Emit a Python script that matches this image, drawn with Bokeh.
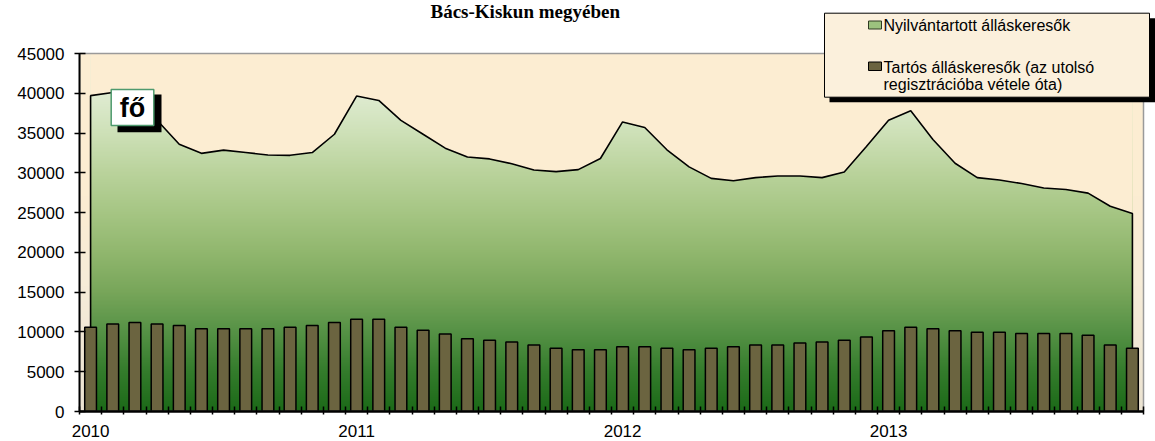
import numpy as np
from bokeh.plotting import figure
from bokeh.models import FixedTicker, BoxAnnotation, Label
from bokeh.embed import file_html
from bokeh.resources import INLINE

# ---------------- data ----------------
years = ["2010", "2011", "2012", "2013"]
months_per_year = 12
nyilvantartott = [39700, 40100, 38900, 36600, 33600, 32450, 32850, 32550, 32250, 32200, 32550, 34850,
                  39650, 39100, 36600, 34850, 33100, 32000, 31750, 31150, 30350, 30150, 30400, 31800,
                  36400, 35700, 32900, 30750, 29300, 29000, 29400, 29600, 29600, 29400, 30100, 33300,
                  36600, 37800, 34200, 31200, 29400, 29100, 28650, 28100, 27900, 27450, 25800, 24900]
tartos = [10600, 11000, 11200, 11000, 10800, 10400, 10400, 10400, 10400, 10600, 10800, 11200,
          11600, 11600, 10600, 10200, 9750, 9150, 8950, 8750, 8350, 7950, 7750, 7750,
          8150, 8150, 7950, 7750, 7950, 8150, 8350, 8350, 8600, 8750, 8950, 9350,
          10150, 10600, 10400, 10150, 9950, 9950, 9800, 9800, 9800, 9600, 8350, 7950]
y_ticks = [0, 5000, 10000, 15000, 20000, 25000, 30000, 35000, 40000, 45000]
title_text = "Bács-Kiskun megyében"
label_area = "Nyilvántartott álláskeresők"
label_bars = "Tartós álláskeresők (az utolsó\nregisztrációba vétele óta)"
unit_text = "fő"

n = len(nyilvantartott)
idx = list(range(n))
y_max = y_ticks[-1]

# ---------------- layout geometry (page pixels) ----------------
W, H = 1155, 441
BOTTOM_BORDER = 30
FRAME_L, FRAME_R_AXIS, FRAME_R = 79, 1143, W
FRAME_T, FRAME_B = 0, H - BOTTOM_BORDER
TOP_PX = 53
ppm = (FRAME_R_AXIS - FRAME_L) / n
x_start = -0.5
x_end = x_start + (FRAME_R - FRAME_L) / ppm
y_end = y_max * (FRAME_B - FRAME_T) / (FRAME_B - TOP_PX)


def X(px):
    return x_start + (px - FRAME_L) / ppm


def Y(py):
    return (FRAME_B - py) / (FRAME_B - FRAME_T) * y_end


FONT = "Liberation Sans"

p = figure(width=W, height=H, output_backend="svg", toolbar_location=None,
           x_range=(x_start, x_end), y_range=(0, y_end),
           min_border_left=FRAME_L, min_border_right=0,
           min_border_top=0, min_border_bottom=BOTTOM_BORDER)
p.outline_line_color = None
p.background_fill_color = "white"
p.border_fill_color = "white"
p.xgrid.visible = False
p.ygrid.visible = False


def gradient(stops, rows):
    vals = np.linspace(0, 1, rows)
    pos = [s[0] for s in stops]
    out = np.zeros((rows, 1, 4), dtype=np.uint8)
    for c in range(3):
        out[:, 0, c] = np.interp(vals, pos, [s[1][c] for s in stops]).astype(np.uint8)
    out[:, 0, 3] = 255
    return out.view(np.uint32).reshape(rows, 1)


# beige plot-area background
bg_top = (252, 237, 210)
bg = gradient([(0.0, (236, 228, 210)), (0.35, (246, 236, 216)), (0.6, bg_top), (1.0, bg_top)], 300)
p.image_rgba(image=[bg], x=x_start, y=0, dw=n, dh=y_max)

# area: semantic fill, gradient, then cover above the curve
p.varea(x=idx, y1=0, y2=nyilvantartott, fill_color="#9CC27E")
green = gradient([(0.0, (28, 106, 24)), (0.111, (52, 124, 44)), (0.222, (86, 146, 70)),
                  (0.333, (120, 166, 90)), (0.444, (145, 183, 110)), (0.556, (166, 198, 132)),
                  (0.667, (186, 211, 156)), (0.778, (206, 225, 184)), (0.889, (224, 236, 210)),
                  (1.0, (232, 240, 222))], 450)
p.image_rgba(image=[green], x=idx[0], y=0, dw=idx[-1] - idx[0], dh=y_max)
p.varea(x=idx, y1=nyilvantartott, y2=y_max, fill_color="#%02x%02x%02x" % bg_top)
p.line(x=[idx[0]] + idx + [idx[-1]], y=[0] + nyilvantartott + [0], line_color="black", line_width=1.6)

# bars
p.vbar(x=idx, top=tartos, width=0.53, fill_color="#6B6440", line_color="black", line_width=1.5)

# plot-area border (top/right gray)
p.quad(left=x_start, right=x_start + n, bottom=0, top=y_max, fill_color=None,
       line_color="#9A9A9A", line_width=1.5)

# axes
xa = p.xaxis[0]
xa.ticker = FixedTicker(ticks=[i * months_per_year for i in range(len(years))],
                        minor_ticks=[x_start + k for k in range(n + 1)])
xa.major_label_overrides = {i * months_per_year: y for i, y in enumerate(years)}
xa.bounds = (x_start, x_start + n)
xa.major_tick_in = 0
xa.major_tick_out = 0
xa.minor_tick_in = 5
xa.minor_tick_out = 3
xa.minor_tick_line_color = "black"
xa.minor_tick_line_width = 1.5
xa.axis_line_width = 2.5
xa.axis_line_color = "black"
xa.major_label_text_font = FONT
xa.major_label_text_font_size = "17px"
xa.major_label_text_color = "black"
xa.major_label_standoff = 10

ya = p.yaxis[0]
ya.ticker = FixedTicker(ticks=y_ticks)
ya.bounds = (0, y_max)
ya.major_tick_in = 6
ya.major_tick_out = 5
ya.minor_tick_in = 0
ya.minor_tick_out = 0
ya.major_tick_line_width = 1.5
ya.major_tick_line_color = "black"
ya.axis_line_width = 2
ya.axis_line_color = "black"
ya.major_label_text_font = FONT
ya.major_label_text_font_size = "17px"
ya.major_label_text_color = "black"
ya.major_label_standoff = 10

# "fő" unit box
p.add_layout(BoxAnnotation(left=X(117), right=X(161), top=Y(94), bottom=Y(131.7),
                           fill_color="black", fill_alpha=1, line_color=None))
p.add_layout(BoxAnnotation(left=X(110.7), right=X(153.3), top=Y(89), bottom=Y(125),
                           fill_color="white", fill_alpha=1, line_color="#4E9A6E",
                           line_alpha=1, line_width=1.5))
p.add_layout(Label(x=X(132), y=Y(107.5), text=unit_text, text_align="center",
                   text_baseline="middle", text_font=FONT, text_font_style="bold",
                   text_font_size="27px", text_color="black"))

# title
p.add_layout(Label(x=X(430), y=Y(0.5), text=title_text, text_align="left",
                   text_baseline="top", text_font="Liberation Serif",
                   text_font_style="bold", text_font_size="19px", text_color="black"))

# legend box
p.add_layout(BoxAnnotation(left=X(829), right=X(1160), top=Y(17.7), bottom=Y(101.7),
                           fill_color="black", fill_alpha=1, line_color=None))
p.add_layout(BoxAnnotation(left=X(824), right=X(1149), top=Y(12.7), bottom=Y(96.7),
                           fill_color="#FBF0DC", fill_alpha=1, line_color="black",
                           line_alpha=1, line_width=1))
p.add_layout(BoxAnnotation(left=X(868), right=X(881), top=Y(20.5), bottom=Y(28.5),
                           fill_color="#9CC27E", fill_alpha=1, line_color="#2E3A22",
                           line_alpha=1, line_width=1))
p.add_layout(BoxAnnotation(left=X(868), right=X(881), top=Y(61.5), bottom=Y(70),
                           fill_color="#6B6440", fill_alpha=1, line_color="black",
                           line_alpha=1, line_width=1))
p.add_layout(Label(x=X(883), y=Y(25), text=label_area, text_align="left",
                   text_baseline="middle", text_font=FONT, text_font_size="16px",
                   text_color="black"))
p.add_layout(Label(x=X(883), y=Y(75), text=label_bars, text_align="left",
                   text_baseline="middle", text_font=FONT, text_font_size="16px",
                   text_color="black", text_line_height=1.0))

open("out.html", "w").write(file_html(p, INLINE))
